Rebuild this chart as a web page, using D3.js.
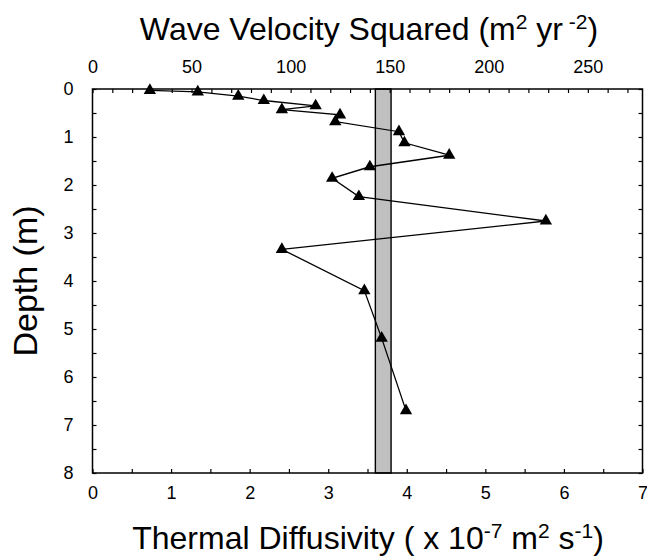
<!DOCTYPE html>
<meta charset="utf-8">
<style>
body { margin: 0; background: #fff; }
text { font-family: "Liberation Sans", Arial, sans-serif; fill: #000; }
.tick line { stroke: #000; stroke-width: 1.2; }
.domain { display: none; }
</style>
<body>
<script src="https://cdn.jsdelivr.net/npm/d3@7"></script>
<script>

// data
var diffusivity = [0.73, 1.34, 1.855, 2.18, 2.84, 2.41, 3.15, 3.09, 3.90, 3.97, 4.54, 3.53, 3.05, 3.39, 5.77, 2.41, 3.46, 3.68, 3.99];
var depth       = [0.03, 0.06, 0.15, 0.24, 0.35, 0.43, 0.54, 0.68, 0.89, 1.12, 1.38, 1.62, 1.86, 2.24, 2.75, 3.34, 4.20, 5.19, 6.70];
var band = [3.6, 3.8];
var bottomTicks = [0, 1, 2, 3, 4, 5, 6, 7];
var depthTicks = [0, 1, 2, 3, 4, 5, 6, 7, 8];
var topTicks = [0, 50, 100, 150, 200, 250];

// v^2 = 2 * kappa * omega  (kappa in 1e-7 m2/s, omega = 2pi / yr)
var factor = 4 * Math.PI * 3.15576;

var margin = {top: 89, right: 4.5, bottom: 86, left: 92.5},
    width = 647 - margin.left - margin.right,
    height = 559 - margin.top - margin.bottom;

var x = d3.scaleLinear().domain([0, 7]).range([0, width]);
var xTop = d3.scaleLinear().domain([0, 7 * factor]).range([0, width]);
var y = d3.scaleLinear().domain([0, 8]).range([0, height]);

var svg = d3.select("body").append("svg")
    .attr("width", 647)
    .attr("height", 559);

var g = svg.append("g")
    .attr("transform", "translate(" + margin.left + "," + margin.top + ")");

// gray band
g.append("rect")
    .attr("x", x(band[0]))
    .attr("y", 0)
    .attr("width", x(band[1]) - x(band[0]))
    .attr("height", height)
    .attr("fill", "#c0c0c0")
    .attr("stroke", "#000")
    .attr("stroke-width", 1.4);

// minor/major ticks, all pointing in
var halves = d3.range(0, 7.01, 0.5);
var depthHalves = d3.range(0, 8.01, 0.5);
var tens = d3.range(0, 7 * factor, 10);

g.append("g")
    .attr("transform", "translate(0," + height + ")")
    .call(d3.axisBottom(x).tickValues(halves).tickSize(-4).tickFormat(""));
g.append("g")
    .call(d3.axisTop(xTop).tickValues(tens).tickSize(-4).tickFormat(""));
g.append("g")
    .call(d3.axisLeft(y).tickValues(depthHalves).tickSize(-4).tickFormat(""));
g.append("g")
    .attr("transform", "translate(" + width + ",0)")
    .call(d3.axisRight(y).tickValues(depthHalves).tickSize(-4).tickFormat(""));

// labels
var lb = g.append("g")
    .attr("transform", "translate(0," + height + ")")
    .call(d3.axisBottom(x).tickValues(bottomTicks).tickSize(0).tickPadding(13).tickFormat(d3.format("d")));
var lt = g.append("g")
    .call(d3.axisTop(xTop).tickValues(topTicks).tickSize(0).tickPadding(16).tickFormat(d3.format("d")));
var ll = g.append("g")
    .call(d3.axisLeft(y).tickValues(depthTicks).tickSize(0).tickPadding(19).tickFormat(d3.format("d")));
[lb, lt, ll].forEach(function(a) {
  a.selectAll("text").style("font-size", "18px").style("font-family", "'Liberation Sans', Arial, sans-serif");
});

// frame
g.append("rect")
    .attr("width", width)
    .attr("height", height)
    .attr("fill", "none")
    .attr("stroke", "#000")
    .attr("stroke-width", 1.5);

// profile line and markers
var pts = diffusivity.map(function(v, i) { return [v, depth[i]]; });

g.append("path")
    .datum(pts)
    .attr("fill", "none")
    .attr("stroke", "#000")
    .attr("stroke-width", 1.3)
    .attr("d", d3.line()
        .x(function(d) { return x(d[0]); })
        .y(function(d) { return y(d[1]); }));

g.selectAll(".pt")
    .data(pts)
  .enter().append("path")
    .attr("class", "pt")
    .attr("transform", function(d) { return "translate(" + x(d[0]) + "," + y(d[1]) + ")"; })
    .attr("d", d3.symbol().type(d3.symbolTriangle).size(66))
    .attr("fill", "#000");

// titles
var t1 = svg.append("text")
    .attr("x", 369)
    .attr("y", 40)
    .attr("text-anchor", "middle")
    .style("font-size", "32px");
t1.append("tspan").text("Wave Velocity Squared (m");
t1.append("tspan").attr("dy", -11).style("font-size", "21px").text("2");
t1.append("tspan").attr("dy", 11).text(" yr");
t1.append("tspan").attr("dy", -11).style("font-size", "21px").text(" -2");
t1.append("tspan").attr("dy", 11).text(")");

var t2 = svg.append("text")
    .attr("x", 368)
    .attr("y", 549)
    .attr("text-anchor", "middle")
    .style("font-size", "32px");
t2.append("tspan").text("Thermal Diffusivity ( x 10");
t2.append("tspan").attr("dy", -11).style("font-size", "21px").text("-7");
t2.append("tspan").attr("dy", 11).text(" m");
t2.append("tspan").attr("dy", -11).style("font-size", "21px").text("2");
t2.append("tspan").attr("dy", 11).text(" s");
t2.append("tspan").attr("dy", -11).style("font-size", "21px").text("-1");
t2.append("tspan").attr("dy", 11).text(")");

svg.append("text")
    .attr("transform", "translate(37," + (margin.top + height / 2) + ") rotate(-90)")
    .attr("text-anchor", "middle")
    .style("font-size", "34px")
    .text("Depth (m)");

</script>
</body>
